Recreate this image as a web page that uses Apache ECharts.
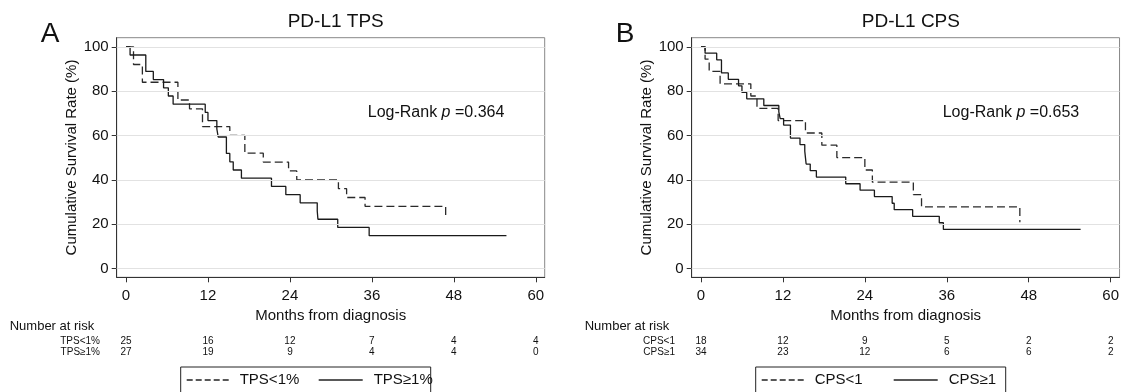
<!DOCTYPE html>
<html><head><meta charset="utf-8">
<script src="https://cdn.jsdelivr.net/npm/echarts@6/dist/echarts.min.js"></script>
<style>html,body{margin:0;padding:0;background:#fff}#c{width:1122px;height:392px}</style>
</head><body><div id="c"></div>
<script>
// ---- data ----
const monthTicks = [0, 12, 24, 36, 48, 60];
const rateTicks = [0, 20, 40, 60, 80, 100];

const tpsLowT = [0, 1.1, 2.4, 7.6, 9.3, 11.2, 15.2, 17.4, 20.1, 23.8, 25.0, 31.1, 32.3, 35.0, 46.8];
const tpsLowS = [100, 92, 84, 76, 72, 64, 60, 52, 48, 44, 40, 36, 32, 28, 22.4];
const tpsHighT = [0, 0.6, 2.9, 4.0, 5.5, 6.2, 6.9, 11.6, 12.0, 13.3, 13.5, 14.7, 15.2, 15.7, 16.9, 21.3, 23.4, 25.5, 28.0, 28.1, 31.0, 35.6, 55.7];
const tpsHighS = [100, 96.3, 88.9, 85.2, 81.5, 77.8, 74.1, 70.4, 66.7, 63.0, 59.3, 51.9, 48.1, 44.4, 40.7, 37.0, 33.3, 29.6, 25.9, 22.2, 18.5, 14.8, 14.8];

const cpsLowT = [0, 0.6, 1.2, 2.8, 7.3, 8.2, 11.3, 15.3, 17.7, 19.9, 24.0, 25.1, 31.1, 32.3, 46.7];
const cpsLowS = [100, 94.4, 88.9, 83.3, 77.8, 72.2, 66.7, 61.1, 55.6, 50.0, 44.4, 38.9, 33.3, 27.8, 20.8];
const cpsHighT = [0, 0.6, 2.3, 3.0, 4.0, 5.5, 6.0, 6.7, 9.2, 11.4, 11.6, 12.1, 13.1, 14.5, 15.2, 15.3, 15.4, 16.0, 16.9, 21.2, 23.3, 25.4, 28.0, 28.3, 31.0, 34.9, 35.5, 55.6];
const cpsHighS = [100, 97.1, 94.1, 88.2, 85.3, 82.4, 79.4, 76.5, 73.5, 70.6, 67.6, 64.7, 58.8, 55.9, 52.9, 50.0, 47.1, 44.1, 41.2, 38.2, 35.3, 32.4, 29.4, 26.5, 23.5, 20.6, 17.6, 17.6];

const tpsLowRisk = [25, 16, 12, 7, 4, 4];
const tpsHighRisk = [27, 19, 9, 4, 4, 0];
const cpsLowRisk = [18, 12, 9, 5, 2, 2];
const cpsHighRisk = [34, 23, 12, 6, 6, 2];

const panels = [
  {letter: 'A', title: 'PD-L1 TPS', pval: '0.364', lowName: 'TPS<1%', highName: 'TPS\u22651%',
   lowT: tpsLowT, lowS: tpsLowS, highT: tpsHighT, highS: tpsHighS, lowRisk: tpsLowRisk, highRisk: tpsHighRisk},
  {letter: 'B', title: 'PD-L1 CPS', pval: '0.653', lowName: 'CPS<1', highName: 'CPS\u22651',
   lowT: cpsLowT, lowS: cpsLowS, highT: cpsHighT, highS: cpsHighS, lowRisk: cpsLowRisk, highRisk: cpsHighRisk}
];

// ---- layout ----
const FONT = 'Arial, "Liberation Sans", sans-serif';
const gridLeft = [116.7, 691.7];
const gridW = [428, 428.3];
const gridTop = 37.7, gridH = 239.6;
const xMin = -1.36, xMax = 61.3, yMin = -4, yMax = 104.1;

const pairs = (t, s) => t.map((v, i) => [v, s[i]]);

const chart = echarts.init(document.getElementById('c'), null, {renderer: 'canvas'});
const option = {
  animation: false,
  backgroundColor: '#fff',
  textStyle: {fontFamily: FONT},
  title: panels.map((p, i) => ({
    text: p.title, left: gridLeft[i] + gridW[i] / 2, top: 7, textAlign: 'center',
    textStyle: {fontFamily: FONT, fontSize: 19, fontWeight: 'normal', color: '#111'}
  })),
  grid: panels.map((p, i) => ({
    left: gridLeft[i], top: gridTop, width: gridW[i], height: gridH,
    show: true, borderColor: '#888', borderWidth: 1, backgroundColor: '#fff'
  })),
  xAxis: panels.map((p, i) => ({
    type: 'value', gridIndex: i, min: xMin, max: xMax,
    name: 'Months from diagnosis', nameLocation: 'middle', nameGap: 21,
    nameTextStyle: {fontFamily: FONT, fontSize: 15, color: '#111'},
    axisLine: {show: true, onZero: false, lineStyle: {color: '#333', width: 1}},
    axisTick: {show: true, length: 5, customValues: monthTicks, lineStyle: {color: '#333'}},
    axisLabel: {customValues: monthTicks, margin: 11, fontFamily: FONT, fontSize: 15, color: '#111'},
    splitLine: {show: false}
  })),
  yAxis: panels.map((p, i) => ({
    type: 'value', gridIndex: i, min: yMin, max: yMax,
    name: 'Cumulative Survival Rate (%)', nameLocation: 'middle', nameGap: 34, nameRotate: 90,
    nameTextStyle: {fontFamily: FONT, fontSize: 15, color: '#111'},
    axisLine: {show: true, onZero: false, lineStyle: {color: '#333', width: 1}},
    axisTick: {show: true, length: 5, customValues: rateTicks, lineStyle: {color: '#333'}},
    axisLabel: {customValues: rateTicks, margin: 8, fontFamily: FONT, fontSize: 15, color: '#111'},
    splitLine: {show: false}
  })),
  series: []
};
panels.forEach((p, i) => {
  option.series.push({
    name: p.lowName + ' grid', type: 'line', xAxisIndex: i, yAxisIndex: i, data: [], silent: true,
    markLine: {silent: true, symbol: 'none', label: {show: false},
      lineStyle: {color: '#e2e2e2', type: 'solid', width: 1.2},
      data: rateTicks.map(v => ({yAxis: v}))}
  });
  option.series.push({
    name: p.lowName, type: 'line', step: 'end', xAxisIndex: i, yAxisIndex: i, showSymbol: false, symbol: 'none',
    data: pairs(p.lowT, p.lowS), lineStyle: {color: '#2a2a2a', width: 1.3, type: [8, 4]}, z: 3
  });
  option.series.push({
    name: p.highName, type: 'line', step: 'end', xAxisIndex: i, yAxisIndex: i, showSymbol: false, symbol: 'none',
    data: pairs(p.highT, p.highS), lineStyle: {color: '#1a1a1a', width: 1.3, type: 'solid'}, z: 4
  });
});
chart.setOption(option);

// ---- annotations: panel letters, log-rank text, risk table, legend ----
const g = [];
const txt = (x, y, s, opt) => g.push(Object.assign({type: 'text', x: x, y: y,
  style: Object.assign({text: s, fontFamily: FONT, fontSize: 13, fill: '#111', textVerticalAlign: 'middle'}, opt || {})}));

panels.forEach((p, i) => {
  const L = gridLeft[i];
  const px = m => chart.convertToPixel({xAxisIndex: i}, m);
  const py = v => chart.convertToPixel({yAxisIndex: i}, v);
  // panel letter
  txt(L - 76, 34, p.letter, {fontSize: 28});
  // log-rank
  g.push({type: 'text', x: px(35.4), y: py(70.5), style: {
    text: '{a|Log-Rank }{b|p}{a| =' + p.pval + '}', fontFamily: FONT, textVerticalAlign: 'middle',
    rich: {a: {fontFamily: FONT, fontSize: 16, fill: '#111'}, b: {fontFamily: FONT, fontSize: 16, fontStyle: 'italic', fill: '#111'}}}});
  // risk table
  txt(L - 107, 326, 'Number at risk', {fontSize: 13});
  txt(px(0) - 26, 341, p.lowName, {fontSize: 10, textAlign: 'right'});
  txt(px(0) - 26, 352, p.highName, {fontSize: 10, textAlign: 'right'});
  monthTicks.forEach((m, k) => {
    txt(px(m), 341, String(p.lowRisk[k]), {fontSize: 10, textAlign: 'center'});
    txt(px(m), 352, String(p.highRisk[k]), {fontSize: 10, textAlign: 'center'});
  });
  // legend box
  const bx = L + 64, bw = 250, by = 367;
  g.push({type: 'rect', shape: {x: bx, y: by, width: bw, height: 40},
    style: {fill: '#fff', stroke: '#222', lineWidth: 1}});
  g.push({type: 'line', shape: {x1: bx + 6, y1: by + 13, x2: bx + 50, y2: by + 13},
    style: {stroke: '#222', lineWidth: 1.3, lineDash: [6, 3]}});
  txt(bx + 59, by + 13, p.lowName, {fontSize: 15});
  g.push({type: 'line', shape: {x1: bx + 138, y1: by + 13, x2: bx + 182, y2: by + 13},
    style: {stroke: '#222', lineWidth: 1.3}});
  txt(bx + 193, by + 13, p.highName, {fontSize: 15});
});
chart.setOption({graphic: {elements: g}});
</script></body></html>
